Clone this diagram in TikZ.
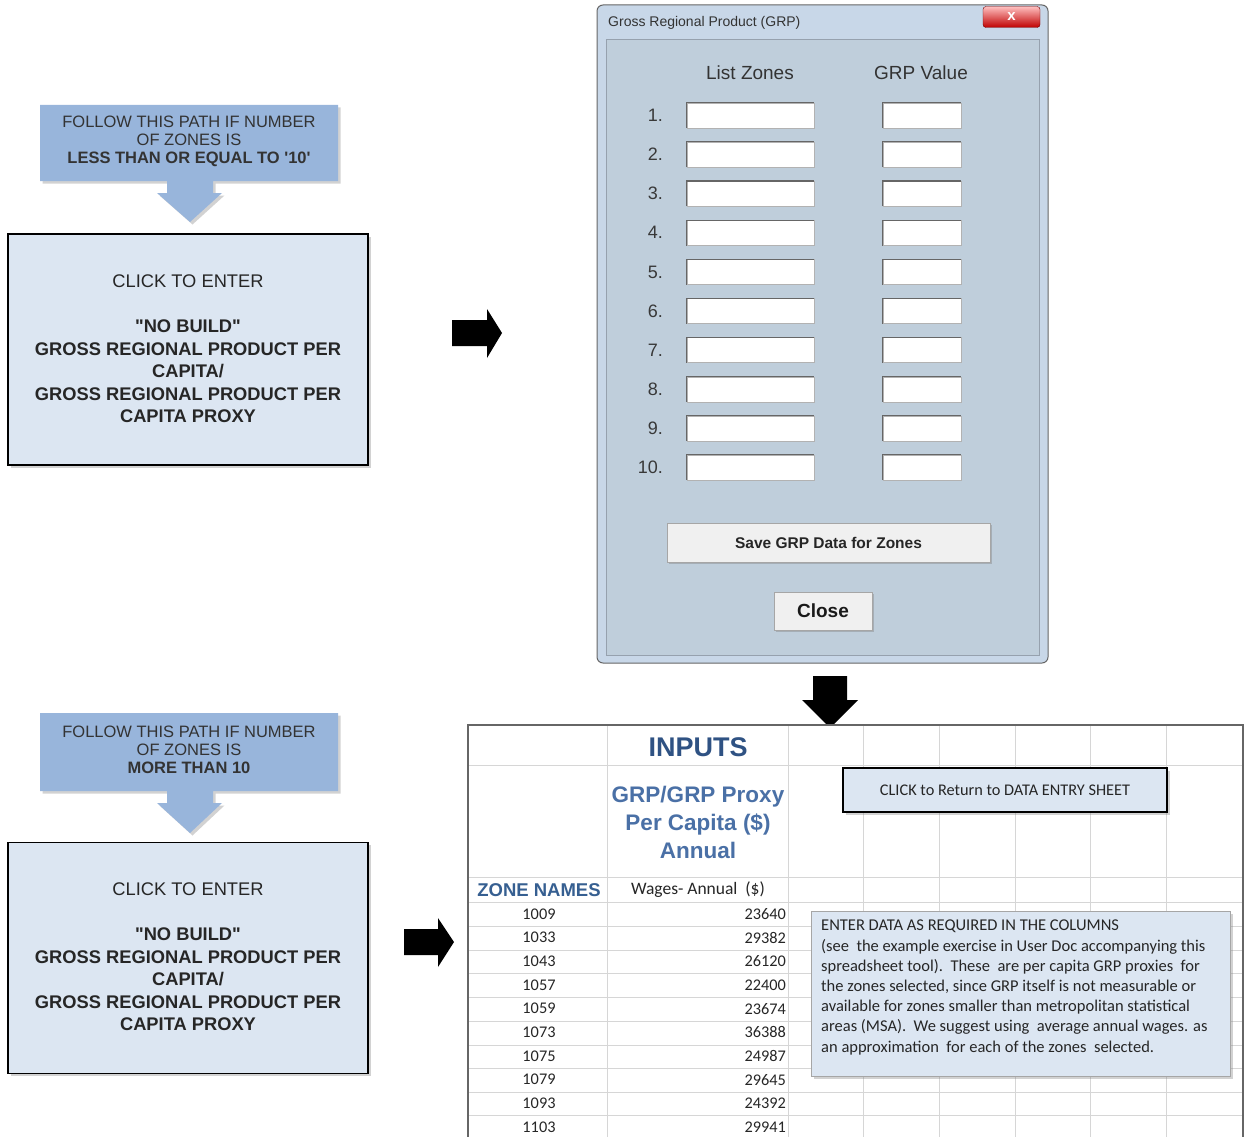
\documentclass[tikz,border=0pt]{standalone}
\usepackage{fontspec}
\setmainfont{Liberation Sans}[Ligatures=TeXOff]
\newfontfamily\calib{Carlito}
\usetikzlibrary{shadows}
\definecolor{calloutblue}{HTML}{98B5DB}
\definecolor{boxfill}{HTML}{DCE6F2}
\definecolor{txtgray}{HTML}{333333}
\definecolor{winframe}{HTML}{C8D7E8}
\definecolor{winclient}{HTML}{BFCEDB}
\definecolor{gridgray}{HTML}{D6D6D6}
\definecolor{inputsblue}{HTML}{2F5283}
\definecolor{grpblue}{HTML}{4A70A6}
\definecolor{zoneblue}{HTML}{365F91}
\newcommand{\fsz}[2]{\fontsize{#1}{#2}\selectfont}
\begin{document}
\begin{tikzpicture}[x=1pt,y=-1pt,
  shadowed/.style={drop shadow={opacity=0.35,shadow xshift=2.5pt,shadow yshift=-2.5pt}},
  callout/.style={fill=calloutblue, shadowed},
  callouttext/.style={font=\fsz{16.5}{18}, text=txtgray, align=center, inner sep=0},
  clickbox/.style={draw=black, line width=1.8pt, fill=boxfill, shadowed, minimum width=360, minimum height=231, inner sep=0},
  clicktext/.style={font=\fsz{18.3}{22.5}, text=black!85, align=center, inner sep=0},
  blockarrow/.style={fill=black},
  field/.style={draw=black!30, fill=white, minimum height=25, inner sep=0},
  rownum/.style={font=\fsz{18}{20}, text=black!78, anchor=east, inner sep=0},
  btn/.style={fill=black!6, draw=black!35, inner sep=0, drop shadow={opacity=0.4,shadow xshift=1.5pt,shadow yshift=-1.5pt}},
  gridline/.style={draw=gridgray, line width=0.9pt},
  cell/.style={font=\calib\fsz{16.3}{18}, text=black!85, inner sep=0}
]
\useasboundingbox (0,0) rectangle (1247,1137);
\fill[white] (0,0) rectangle (1247,1137);

% ---------- left column: upper path ----------
\fill[callout] (40,105) -- (338,105) -- (338,181) -- (213,181) -- (213,193) -- (222,193)
  -- (190,222) -- (157,193) -- (167,193) -- (167,181) -- (40,181) -- cycle;
\node[callouttext] (call1) at (189,141) {FOLLOW THIS PATH IF NUMBER\\OF ZONES IS\\\textbf{LESS THAN OR EQUAL TO '10'}};
\node[clickbox] (box1) at (188,349.5) {};
\node[clicktext] (box1text) at (188,349) {CLICK TO ENTER\\\mbox{}\\\textbf{"NO BUILD"}\\\textbf{GROSS REGIONAL PRODUCT PER}\\\textbf{CAPITA/}\\\textbf{GROSS REGIONAL PRODUCT PER}\\\textbf{CAPITA PROXY}};

% ---------- left column: lower path ----------
\fill[callout] (40,713) -- (338,713) -- (338,791) -- (213,791) -- (213,803) -- (222,803)
  -- (190,833) -- (157,803) -- (167,803) -- (167,791) -- (40,791) -- cycle;
\node[callouttext] (call2) at (189,750) {FOLLOW THIS PATH IF NUMBER\\OF ZONES IS\\\textbf{MORE THAN 10}};
\node[clickbox] (box2) at (188,958) {};
\node[clicktext] (box2text) at (188,957) {CLICK TO ENTER\\\mbox{}\\\textbf{"NO BUILD"}\\\textbf{GROSS REGIONAL PRODUCT PER}\\\textbf{CAPITA/}\\\textbf{GROSS REGIONAL PRODUCT PER}\\\textbf{CAPITA PROXY}};

% ---------- block arrows ----------
\fill[blockarrow] (452,320) -- (487,320) -- (487,309) -- (502,333) -- (487,358) -- (487,346) -- (452,346) -- cycle;
\fill[blockarrow] (404,929) -- (438,929) -- (438,918) -- (454,942) -- (438,967) -- (438,955) -- (404,955) -- cycle;
\fill[blockarrow] (813,676) -- (847,676) -- (847,700) -- (858,700) -- (830,728) -- (802,700) -- (813,700) -- cycle;

% ---------- dialog window ----------
\draw[fill=winframe, draw=black!60, line width=1pt, rounded corners=6] (597,5) rectangle (1048,663);
\draw[fill=winclient, draw=black!25!winframe, line width=1pt] (606,40) rectangle (1039,655);
\node[font=\fsz{14}{16}, text=black!80, anchor=west, inner sep=0] (title) at (608,23) {Gross Regional Product (GRP)};
\node[draw=black!55!red, rounded corners=3, top color=red!25!white, bottom color=red!75!black, minimum width=57, minimum height=21, inner sep=0,
  font=\bfseries\fsz{15}{15}, text=white] (xbtn) at (1011.5,17) {x};
\node[font=\fsz{19}{21}, text=black!80, inner sep=0] (hzones) at (750,73) {List Zones};
\node[font=\fsz{19}{21}, text=black!80, inner sep=0] (hgrp) at (921,73) {GRP Value};
\foreach \i in {1,...,10} {
  \pgfmathsetmacro{\yy}{115.5+(\i-1)*39.1}
  \node[rownum] (n\i) at (663,\yy) {\i.};
  \node[field, minimum width=127] (fz\i) at (750.5,\yy) {};
  \node[field, minimum width=78] (fg\i) at (922,\yy) {};
  \draw[black!60, line width=1.2pt] (fz\i.south west) -- (fz\i.north west) -- (fz\i.north east);
  \draw[black!60, line width=1.2pt] (fg\i.south west) -- (fg\i.north west) -- (fg\i.north east);
}
\node[btn, minimum width=323, minimum height=39, font=\bfseries\fsz{15.5}{17}, text=black!85] (save) at (828.5,542.5) {Save GRP Data for Zones};
\node[btn, minimum width=98, minimum height=38, font=\bfseries\fsz{19}{21}, text=black!90] (close) at (823,611) {Close};

% ---------- spreadsheet ----------
\begin{scope}
\clip (468,725) rectangle (1243,1137);
\fill[white] (468,725) rectangle (1243,1137);
\foreach \yy in {765,877,902,926,950,973,997,1021,1045,1068,1092,1115}
  \draw[gridline] (468,\yy) -- (1243,\yy);
\foreach \xx in {607,788,863,939,1015,1090,1166}
  \draw[gridline] (\xx,725) -- (\xx,1137);
\end{scope}
\draw[black!60, line width=1.8pt] (468,1137) -- (468,725) -- (1243,725) -- (1243,1137);

\node[font=\bfseries\fsz{27}{30}, text=inputsblue, inner sep=0] (inputs) at (698,747) {INPUTS};
\node[font=\bfseries\fsz{22.5}{28}, text=grpblue, align=center, inner sep=0] (grphead) at (698,822) {GRP/GRP Proxy\\Per Capita (\$)\\Annual};
\node[font=\bfseries\fsz{18.5}{20}, text=zoneblue, inner sep=0] (zonehead) at (539,890) {ZONE NAMES};
\node[cell, font=\calib\fsz{17.5}{18}] (wagehead) at (698,890) {Wages- Annual\ \ (\$)};
\foreach \z/\v [count=\i from 0] in {1009/23640,1033/29382,1043/26120,1057/22400,1059/23674,1073/36388,1075/24987,1079/29645,1093/24392,1103/29941} {
  \pgfmathsetmacro{\yy}{914+\i*23.67}
  \node[cell] (zn\i) at (539,\yy) {\z};
  \node[cell, anchor=east] (zv\i) at (786,\yy) {\v};
}

\node[draw=black, line width=1.8pt, fill=boxfill, shadowed, minimum width=324, minimum height=44, inner sep=0,
  font=\calib\fsz{16.3}{18}, text=black!85] (returnbtn) at (1005,790) {CLICK to Return to DATA ENTRY SHEET};

\node[draw=black!35, fill=boxfill, shadowed, minimum width=419, minimum height=165, inner sep=0] (tbox) at (1020.5,993.5) {};
\node[font=\calib\fsz{16.5}{20.2}, text=black!85, align=left, anchor=west, inner sep=0] (tboxtext) at (821,987.5)
 {ENTER DATA AS REQUIRED IN THE COLUMNS\\
  (see\ \ the example exercise in User Doc accompanying this\\
  spreadsheet tool).\ \ These\ \ are per capita GRP proxies\ \ for\\
  the zones selected, since GRP itself is not measurable or\\
  available for zones smaller than metropolitan statistical\\
  areas (MSA).\ \ We suggest using\ \ average annual wages. as\\
  an approximation\ \ for each of the zones\ \ selected.};
\end{tikzpicture}
\end{document}
